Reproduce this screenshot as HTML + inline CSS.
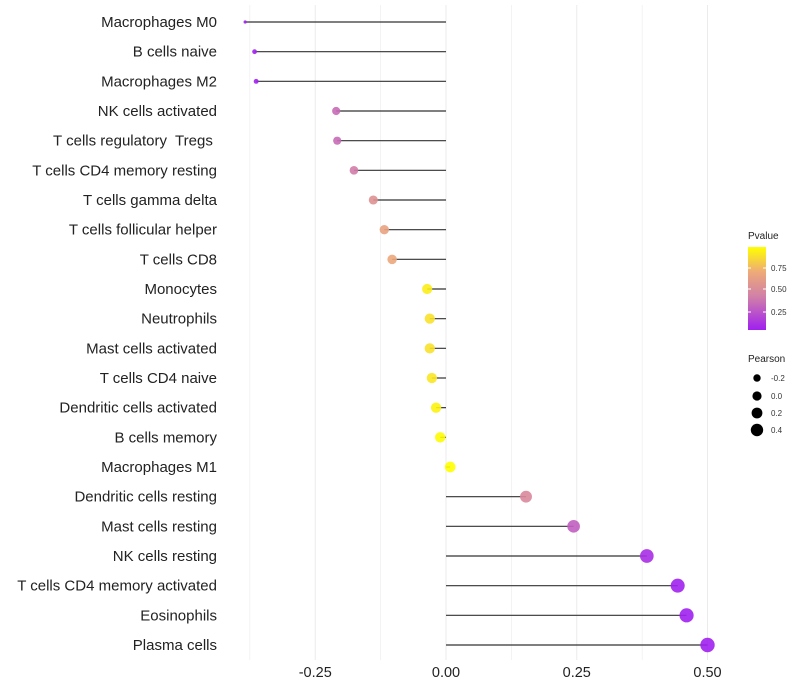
<!DOCTYPE html>
<html><head><meta charset="utf-8"><style>
body{margin:0;background:#fff;}
svg{display:block;font-family:"Liberation Sans",Arial,sans-serif;}
</style></head><body>
<svg id="chart" width="800" height="700">
<defs>
<linearGradient id="pg" x1="0" y1="1" x2="0" y2="0">
<stop offset="0" stop-color="#a020f0"/><stop offset="0.4" stop-color="#d080a8"/><stop offset="0.7" stop-color="#eeaa78"/><stop offset="1" stop-color="#ffff00"/>
</linearGradient>
</defs>
<g id="grid"></g>
<g id="marks"></g>
<g id="ylabels"></g>
<g id="xlabels"></g>
<g>
<text x="748" y="239" font-size="10" fill="#222">Pvalue</text>
<rect x="748" y="247" width="18" height="83" fill="url(#pg)"/>
<line x1="748" x2="751" y1="268" y2="268" stroke="#fff"/><line x1="763" x2="766" y1="268" y2="268" stroke="#fff"/>
<line x1="748" x2="751" y1="289" y2="289" stroke="#fff"/><line x1="763" x2="766" y1="289" y2="289" stroke="#fff"/>
<line x1="748" x2="751" y1="312" y2="312" stroke="#fff"/><line x1="763" x2="766" y1="312" y2="312" stroke="#fff"/>
<text x="771" y="271" font-size="8" fill="#333">0.75</text>
<text x="771" y="292" font-size="8" fill="#333">0.50</text>
<text x="771" y="315" font-size="8" fill="#333">0.25</text>
</g>
<g>
<text x="748" y="362" font-size="10" fill="#222">Pearson</text>
<circle cx="757" cy="378" r="3.7" fill="#000"/><text x="771" y="381" font-size="8" fill="#333">-0.2</text>
<circle cx="757" cy="396" r="4.6" fill="#000"/><text x="771" y="399" font-size="8" fill="#333">0.0</text>
<circle cx="757" cy="413" r="5.4" fill="#000"/><text x="771" y="416" font-size="8" fill="#333">0.2</text>
<circle cx="757" cy="430" r="6.2" fill="#000"/><text x="771" y="433" font-size="8" fill="#333">0.4</text>
</g>
</svg>
<script>
const cells=["Macrophages M0","B cells naive","Macrophages M2","NK cells activated","T cells regulatory  Tregs ","T cells CD4 memory resting","T cells gamma delta","T cells follicular helper","T cells CD8","Monocytes","Neutrophils","Mast cells activated","T cells CD4 naive","Dendritic cells activated","B cells memory","Macrophages M1","Dendritic cells resting","Mast cells resting","NK cells resting","T cells CD4 memory activated","Eosinophils","Plasma cells"];
const pearson=[-0.384,-0.366,-0.363,-0.21,-0.208,-0.176,-0.139,-0.118,-0.103,-0.036,-0.031,-0.031,-0.027,-0.019,-0.011,0.008,0.153,0.244,0.384,0.443,0.46,0.5];
const pvalue=[0.02,0.05,0.05,0.35,0.35,0.43,0.55,0.65,0.68,0.92,0.88,0.88,0.9,0.94,0.97,0.98,0.5,0.3,0.1,0.05,0.04,0.02];
const xTicks=[-0.25,0,0.25,0.5];
const xTickLabels=["-0.25","0.00","0.25","0.50"];
const xMinor=[-0.375,-0.125,0.125,0.375];
const NS="http://www.w3.org/2000/svg";
const x=v=>446+v*523;
const y=i=>22+i*(645-22)/(cells.length-1);
const stops=[[0,[160,32,240]],[0.4,[208,122,170]],[0.7,[238,170,120]],[1,[255,255,0]]];
function col(p){let t=(p-0.04)/(0.98-0.04);t=Math.max(0,Math.min(1,t));
for(let k=1;k<stops.length;k++){if(t<=stops[k][0]){const a=stops[k-1],b=stops[k];const f=(t-a[0])/(b[0]-a[0]);
return "rgb("+a[1].map((c,j)=>Math.round(c+(b[1][j]-c)*f)).join(",")+")";}}return "rgb(255,255,0)";}
const pmin=Math.min(...pearson),pmax=Math.max(...pearson);
const rad=v=>1.6+5.6*Math.sqrt((v-pmin)/(pmax-pmin));
function mk(tag,attrs,parent){const e=document.createElementNS(NS,tag);for(const k in attrs)e.setAttribute(k,attrs[k]);document.getElementById(parent).appendChild(e);return e;}
xTicks.concat(xMinor).forEach(v=>{
const l=mk("line",{x1:x(v),x2:x(v),y1:5,y2:660,stroke:"#ebebeb","stroke-width":xTicks.includes(v)?1:0.6},"grid");

});
xTicks.forEach((v,i)=>{const t=mk("text",{x:x(v),y:677,"font-size":14.5,fill:"#222","text-anchor":"middle"},"xlabels");t.textContent=xTickLabels[i];

});
cells.forEach((c,i)=>{
const t=mk("text",{x:217,y:y(i)+5,"font-size":15,fill:"#222","text-anchor":"end"},"ylabels");t.textContent=c;
t.setAttribute('xml:space','preserve');t.style.whiteSpace='pre';


const s=mk("line",{x1:x(0),x2:x(pearson[i]),y1:y(i),y2:y(i),stroke:"#333","stroke-width":1.2},"marks");


const p=mk("circle",{cx:x(pearson[i]),cy:y(i),r:rad(pearson[i]),fill:col(pvalue[i]),"fill-opacity":0.9},"marks");


});
</script>
</body></html>
